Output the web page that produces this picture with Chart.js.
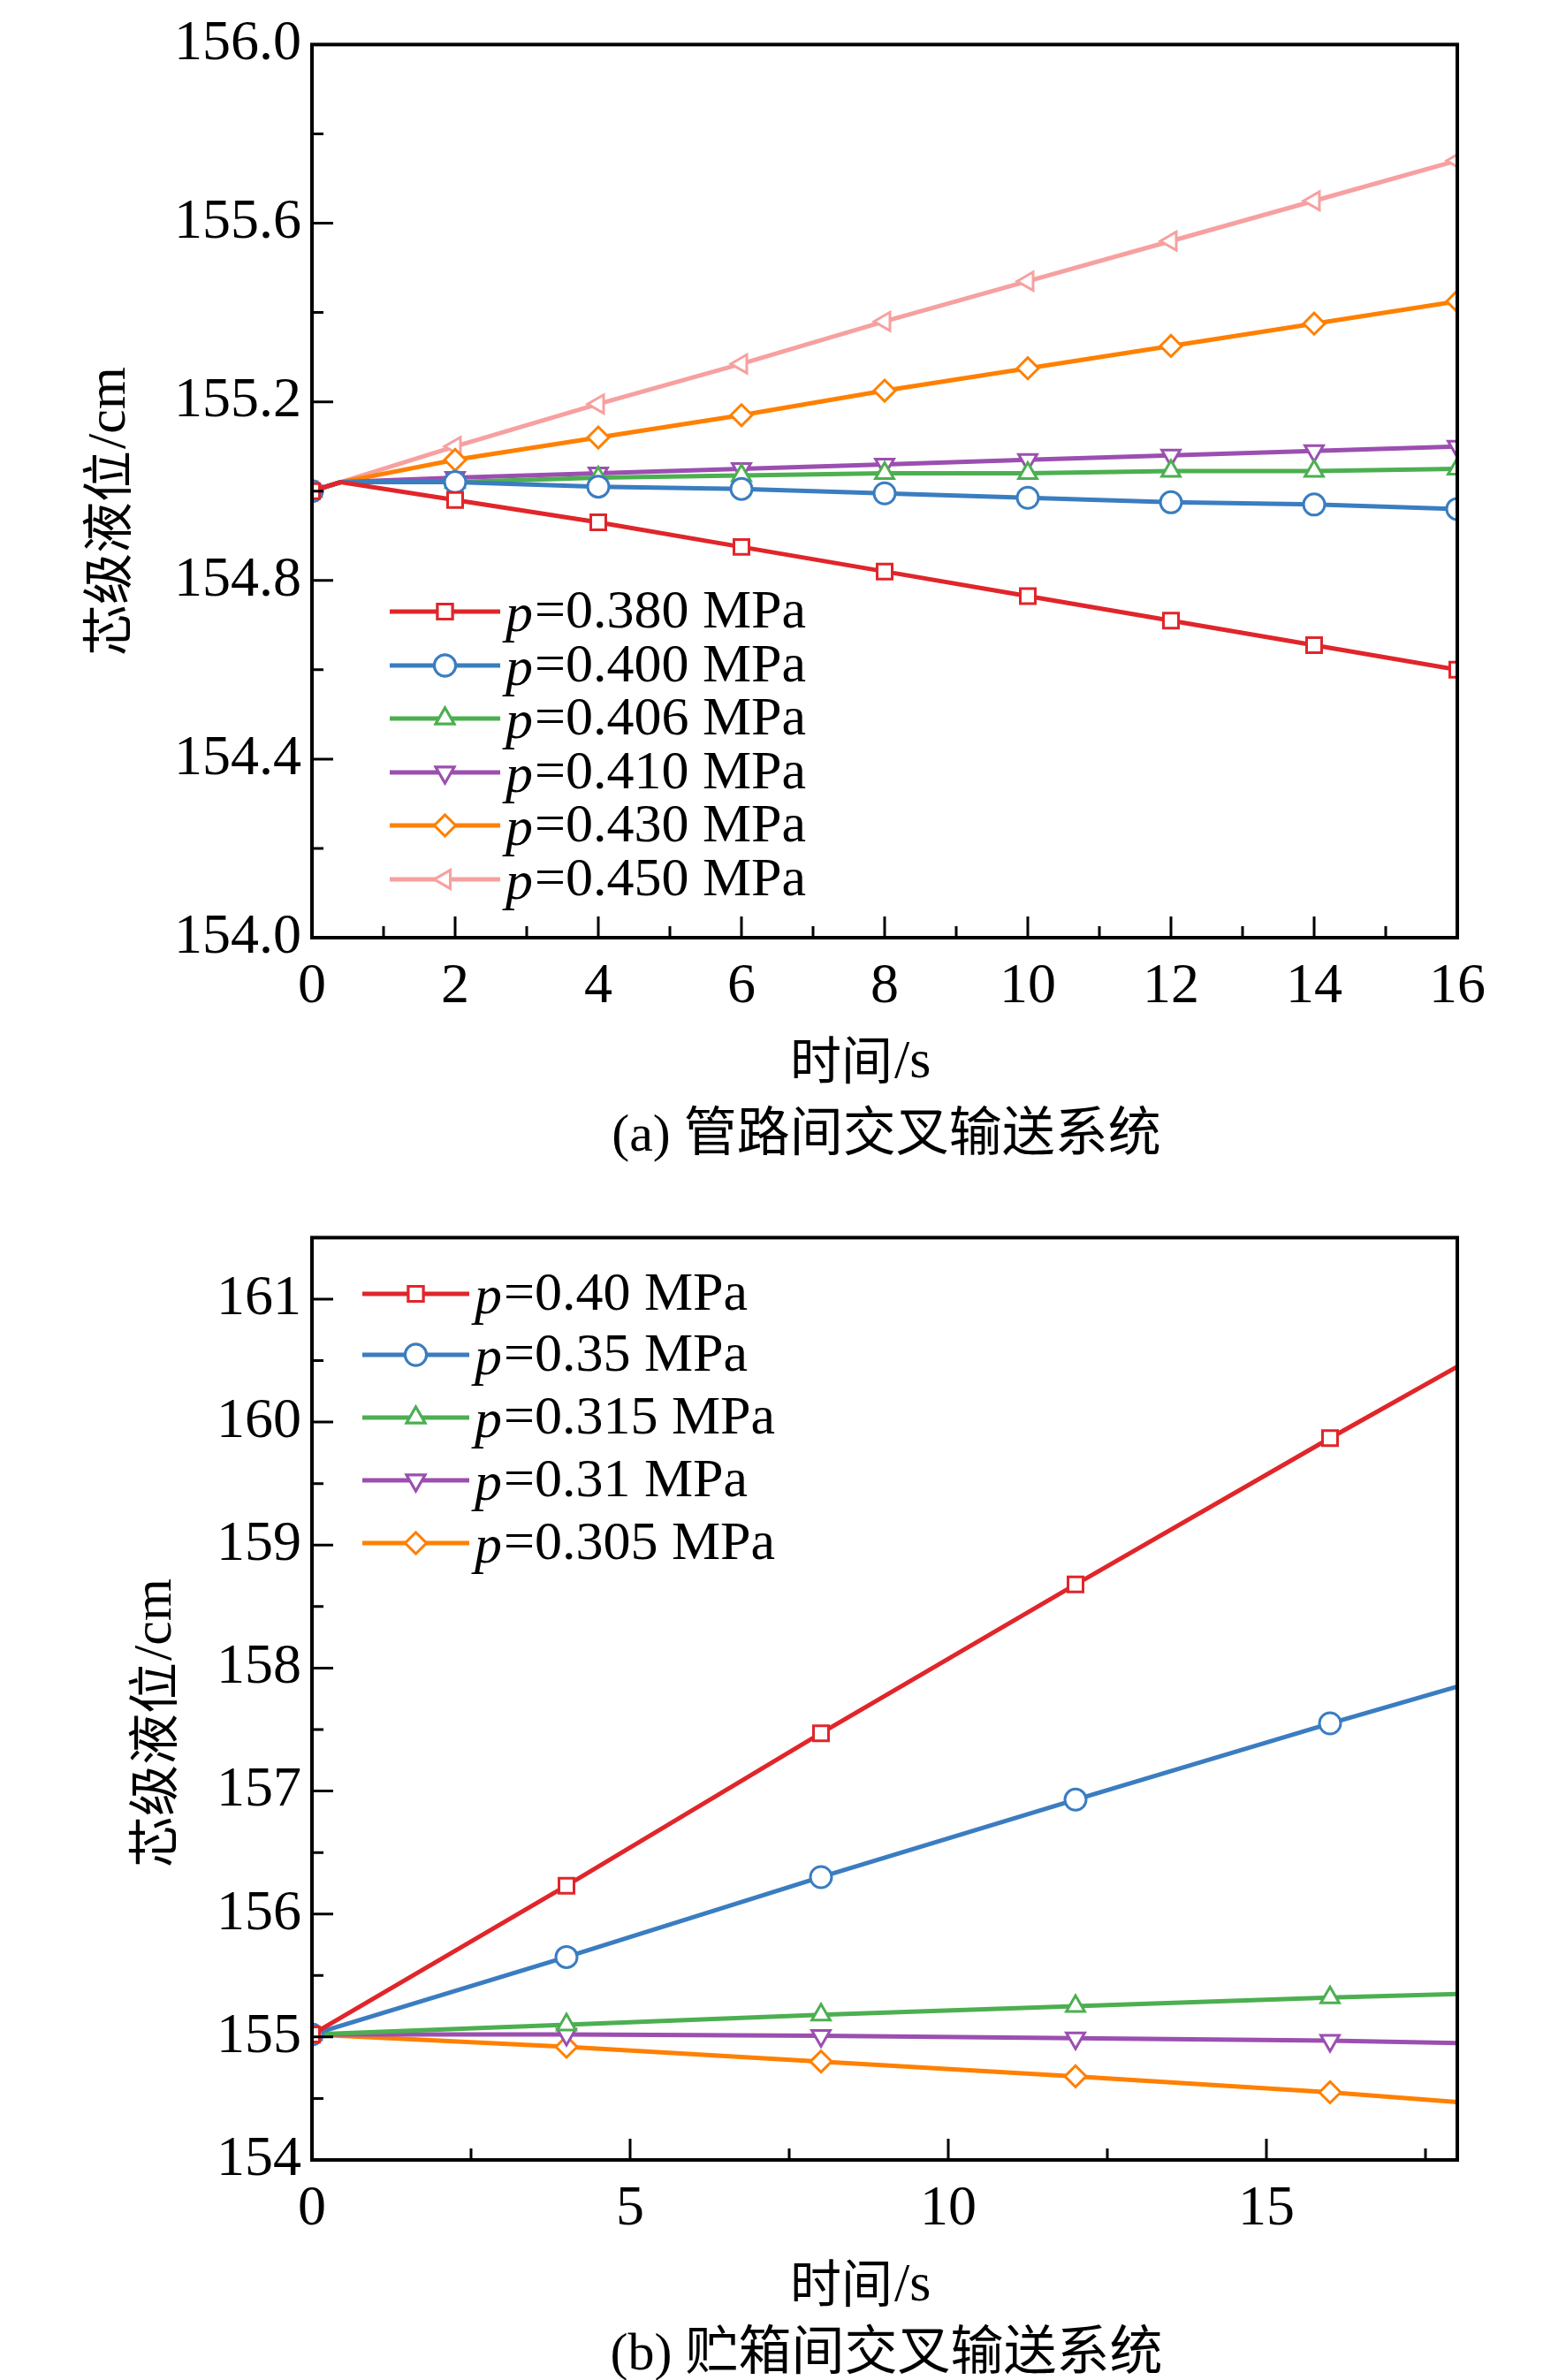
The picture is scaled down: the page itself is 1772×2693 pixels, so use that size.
<!DOCTYPE html>
<html><head><meta charset="utf-8">
<script src="https://cdn.jsdelivr.net/npm/chart.js@4"></script>
<style>body{margin:0;background:#fff}canvas{display:block}</style>
</head><body>
<div style="width:1772px;height:1350px"><canvas id="ca"></canvas></div>
<div style="width:1772px;height:1343px"><canvas id="cb"></canvas></div>
<script>
// --- data (a) ---
const timeA = [0, 0.4, 2, 4, 6, 8, 10, 12, 14, 16];
const labelsA = ['0.380', '0.400', '0.406', '0.410', '0.430', '0.450'];
const levelA380 = [155.0, 155.02, 154.98, 154.93, 154.875, 154.82, 154.765, 154.71, 154.655, 154.60];
const levelA400 = [155.0, 155.02, 155.02, 155.01, 155.005, 154.995, 154.985, 154.975, 154.97, 154.96];
const levelA406 = [155.0, 155.02, 155.02, 155.03, 155.035, 155.04, 155.04, 155.045, 155.045, 155.05];
const levelA410 = [155.0, 155.02, 155.03, 155.04, 155.05, 155.06, 155.07, 155.08, 155.09, 155.10];
const levelA430 = [155.0, 155.02, 155.07, 155.12, 155.17, 155.225, 155.275, 155.325, 155.375, 155.425];
const levelA450 = [155.0, 155.02, 155.10, 155.195, 155.285, 155.38, 155.47, 155.56, 155.65, 155.74];
const yTicksA = [154.0, 154.4, 154.8, 155.2, 155.6, 156.0];
const xTicksA = [0, 2, 4, 6, 8, 10, 12, 14, 16];

// --- data (b) ---
const timeB = [0, 4, 8, 12, 16, 18];
const labelsB = ['0.40', '0.35', '0.315', '0.31', '0.305'];
const levelB40 = [155.02, 156.23, 157.47, 158.68, 159.87, 160.45];
const levelB35 = [155.02, 155.65, 156.30, 156.93, 157.55, 157.85];
const levelB315 = [155.02, 155.10, 155.18, 155.25, 155.32, 155.35];
const levelB31 = [155.02, 155.02, 155.01, 154.99, 154.97, 154.95];
const levelB305 = [155.02, 154.92, 154.80, 154.68, 154.55, 154.47];
const yTicksB = [154, 155, 156, 157, 158, 159, 160, 161];
const xTicksB = [0, 5, 10, 15];

const SERIF = '"Liberation Serif", "Times New Roman", serif';
const CJK = '"Noto Sans CJK SC", sans-serif';

const STYLES = [
  { color: '#e0262a', pointStyle: 'rect', rot: 0 },
  { color: '#3a7dc0', pointStyle: 'circle', rot: 0 },
  { color: '#4caf50', pointStyle: 'triangle', rot: 0 },
  { color: '#9b4fb0', pointStyle: 'triangle', rot: 180 },
  { color: '#ff8000', pointStyle: 'rectRot', rot: 0 },
  { color: '#f7a0a0', pointStyle: 'triangle', rot: -90 }
];

function makeDatasets(xs, series, noMarker) {
  return series.map((ys, i) => ({
    data: xs.map((x, j) => ({ x, y: ys[j] })),
    borderColor: STYLES[i].color,
    pointBorderColor: STYLES[i].color,
    pointBackgroundColor: '#fff',
    borderWidth: 5,
    pointBorderWidth: 3,
    pointStyle: STYLES[i].pointStyle,
    pointRotation: STYLES[i].rot,
    pointRadius: xs.map((x, j) => noMarker(j) ? 0 : 12),
    tension: 0
  }));
}

function framePlugin(cfg) {
  return {
    id: 'frame',
    afterDraw(chart) {
      const { ctx, chartArea: a, scales } = chart;
      ctx.save();
      ctx.strokeStyle = '#000';
      ctx.lineWidth = 4;
      ctx.strokeRect(a.left, a.top, a.right - a.left, a.bottom - a.top);
      ctx.lineWidth = 3;
      // inward ticks
      ctx.beginPath();
      cfg.xMajor.forEach(v => { const p = scales.x.getPixelForValue(v); ctx.moveTo(p, a.bottom); ctx.lineTo(p, a.bottom - 24); });
      cfg.xMinor.forEach(v => { const p = scales.x.getPixelForValue(v); ctx.moveTo(p, a.bottom); ctx.lineTo(p, a.bottom - 13); });
      cfg.yMajor.forEach(v => { const p = scales.y.getPixelForValue(v); ctx.moveTo(a.left, p); ctx.lineTo(a.left + 24, p); });
      cfg.yMinor.forEach(v => { const p = scales.y.getPixelForValue(v); ctx.moveTo(a.left, p); ctx.lineTo(a.left + 13, p); });
      ctx.stroke();
      // axis titles and caption
      ctx.fillStyle = '#000';
      ctx.textBaseline = 'middle';
      ctx.textAlign = 'right';
      ctx.font = '58px ' + CJK;
      ctx.fillText('时间', 1010, cfg.xTitleY);
      ctx.textAlign = 'left';
      ctx.font = '62px ' + SERIF;
      ctx.fillText('/s', 1012, cfg.xTitleY + 4);
      ctx.textAlign = 'center';
      ctx.font = '60px ' + SERIF + ', ' + CJK;
      ctx.fillText(cfg.caption, 1003, cfg.captionY);
      ctx.save();
      ctx.translate(cfg.yTitleX, cfg.yTitleY);
      ctx.rotate(-Math.PI / 2);
      ctx.font = '58px ' + CJK;
      ctx.textAlign = 'right';
      ctx.fillText('芯级液位', 40, 0);
      ctx.textAlign = 'left';
      ctx.font = '62px ' + SERIF;
      ctx.fillText('/cm', 42, 4);
      ctx.restore();
      // legend
      cfg.legend.forEach((lab, i) => {
        const y = cfg.legY[i], s = STYLES[i];
        ctx.strokeStyle = s.color;
        ctx.lineWidth = 5;
        ctx.beginPath(); ctx.moveTo(cfg.legX0, y); ctx.lineTo(cfg.legX1, y); ctx.stroke();
        ctx.fillStyle = '#fff';
        ctx.lineWidth = 3;
        Chart.helpers.drawPoint(ctx, { pointStyle: s.pointStyle, rotation: s.rot, radius: 12, borderWidth: 3 }, (cfg.legX0 + cfg.legX1) / 2, y);
        ctx.fill(); ctx.stroke();
        ctx.fillStyle = '#000';
        ctx.textAlign = 'left';
        ctx.font = 'italic 62px ' + SERIF;
        ctx.fillText('p', cfg.legX1 + 6, y + 6);
        const w = ctx.measureText('p').width;
        ctx.font = '62px ' + SERIF;
        ctx.fillText('=' + lab + ' MPa', cfg.legX1 + 6 + w + 2, y + 2);
      });
      ctx.restore();
    }
  };
}

function axisOpts(min, max, ticks, fmt, isY) {
  return {
    type: 'linear', min, max,
    afterBuildTicks: s => { s.ticks = ticks.map(v => ({ value: v })); },
    afterFit: s => { if (isY) s.width = 200; else s.height = 200; },
    grid: { display: false, drawTicks: false },
    border: { display: false },
    ticks: { color: '#000', font: { family: SERIF, size: 64 }, padding: isY ? 12 : 18, callback: fmt, maxRotation: 0 }
  };
}

function seq(a, b, st) { const r = []; for (let v = a; v <= b + 1e-9; v += st) r.push(+v.toFixed(3)); return r; }

Chart.defaults.animation = false;

new Chart(document.getElementById('ca'), {
  type: 'line',
  data: { datasets: makeDatasets(timeA, [levelA380, levelA400, levelA406, levelA410, levelA430, levelA450], j => j === 1) },
  options: {
    responsive: true, maintainAspectRatio: false,
    layout: { padding: { left: 153, right: 123, top: 21, bottom: 89 } },
    plugins: { legend: { display: false }, tooltip: { enabled: false } },
    scales: {
      x: axisOpts(0, 16, xTicksA, v => String(v), false),
      y: axisOpts(154, 156, yTicksA, v => v.toFixed(1), true)
    }
  },
  plugins: [framePlugin({
    xMajor: xTicksA, xMinor: seq(1, 15, 2), yMajor: yTicksA, yMinor: seq(154.2, 155.8, 0.4),
    xTitleY: 1199, caption: '(a) 管路间交叉输送系统', captionY: 1286,
    yTitleX: 121, yTitleY: 550,
    legend: labelsA, legX0: 441, legX1: 566, legY: [692, 753, 813, 874, 934, 995]
  })]
});

new Chart(document.getElementById('cb'), {
  type: 'line',
  data: { datasets: makeDatasets(timeB, [levelB40, levelB35, levelB315, levelB31, levelB305], j => j === 5) },
  options: {
    responsive: true, maintainAspectRatio: false,
    layout: { padding: { left: 153, right: 123, top: 31, bottom: 49 } },
    plugins: { legend: { display: false }, tooltip: { enabled: false } },
    scales: {
      x: axisOpts(0, 18, xTicksB, v => String(v), false),
      y: axisOpts(154, 161.5, yTicksB, v => String(v), true)
    }
  },
  plugins: [framePlugin({
    xMajor: xTicksB, xMinor: seq(2.5, 17.5, 5), yMajor: yTicksB, yMinor: seq(154.5, 161.5, 1),
    xTitleY: 1233, caption: '(b) 贮箱间交叉输送系统', captionY: 1315,
    yTitleX: 173, yTitleY: 571,
    legend: labelsB, legX0: 410, legX1: 531, legY: [114, 183, 254, 325, 396]
  })]
});
</script>
</body></html>
